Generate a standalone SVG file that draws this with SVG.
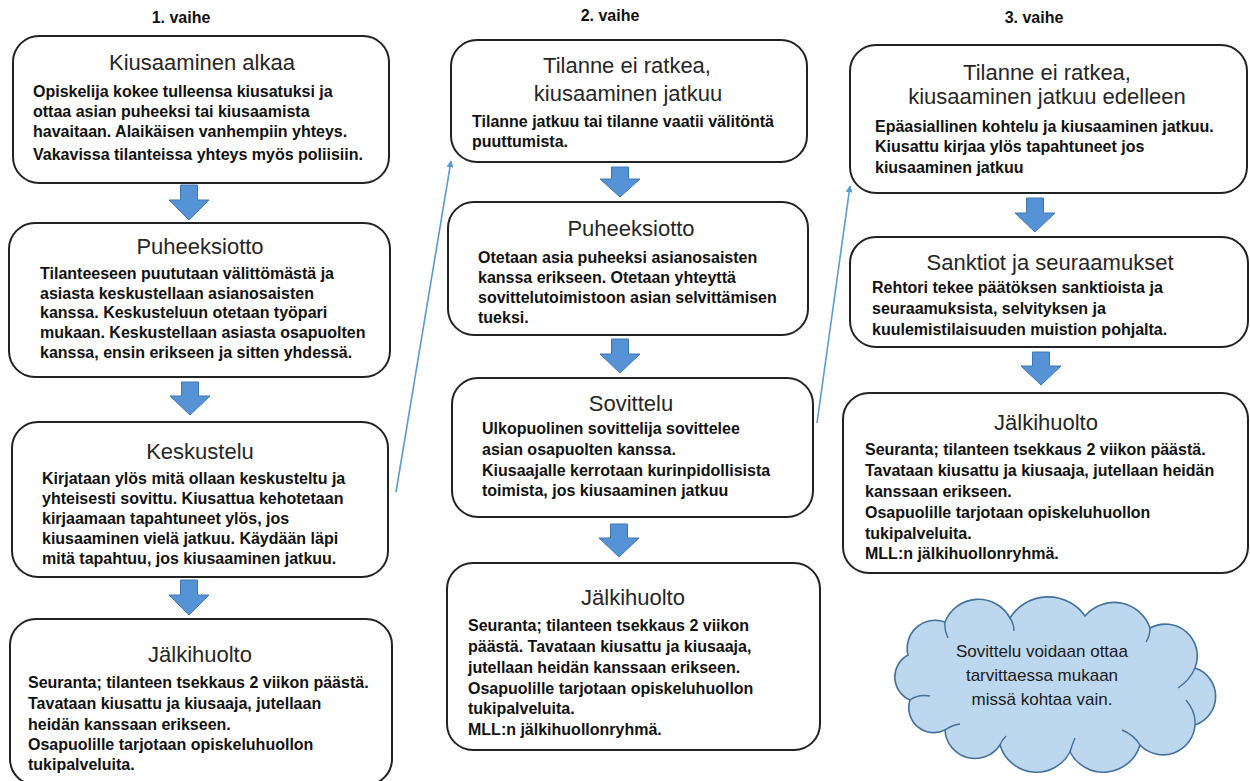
<svg xmlns="http://www.w3.org/2000/svg" width="1250" height="781" viewBox="0 0 1250 781">
<defs>
<style>
.box{fill:#fff;stroke:#222;stroke-width:2}
.ttl{font-family:"Liberation Sans",Arial,sans-serif;font-size:22px;fill:#262626;text-anchor:middle}
.bd{font-family:"Liberation Sans",Arial,sans-serif;font-size:16px;font-weight:bold;fill:#111}
.ph{font-family:"Liberation Sans",Arial,sans-serif;font-size:16px;font-weight:bold;fill:#111;text-anchor:middle}
.blk{fill:#5592D6;stroke:#3F77B5;stroke-width:1}
.con{fill:none;stroke:#5B9BD5;stroke-width:1.6}
.cl{fill:#BDD7EE;stroke:#41719C;stroke-width:1.6}
.cli{fill:none;stroke:#41719C;stroke-width:1.4}
.clt{font-family:"Liberation Sans",Arial,sans-serif;font-size:17px;fill:#1a1a1a;text-anchor:middle}
</style>
<marker id="ah" viewBox="0 0 10 10" refX="9" refY="5" markerWidth="7" markerHeight="7" orient="auto-start-reverse" markerUnits="userSpaceOnUse">
<path d="M0,0 L10,5 L0,10 z" fill="#5B9BD5"/>
</marker>
</defs>
<rect width="1250" height="781" fill="#fff"/>

<text class="ph" x="181" y="23">1. vaihe</text>
<text class="ph" x="610" y="21">2. vaihe</text>
<text class="ph" x="1034" y="23">3. vaihe</text>

<g id="flow-arrows">
<path class="blk" d="M180.5,185 h17 v15 h11.5 l-20,20 l-20,-20 h11.5 z"/>
<path class="blk" d="M181.5,382 h17 v14 h11.5 l-20,19 l-20,-19 h11.5 z"/>
<path class="blk" d="M180.5,580 h17 v15 h11.5 l-20,20 l-20,-20 h11.5 z"/>
<path class="blk" d="M611.5,167 h17 v12 h11.5 l-20,18 l-20,-18 h11.5 z"/>
<path class="blk" d="M611.5,339 h17 v15 h11.5 l-20,19 l-20,-19 h11.5 z"/>
<path class="blk" d="M610.5,524 h17 v14 h11.5 l-20,19 l-20,-19 h11.5 z"/>
<path class="blk" d="M1026.5,198 h17 v15 h11.5 l-20,19 l-20,-19 h11.5 z"/>
<path class="blk" d="M1032.5,352 h17 v14 h11.5 l-20,19 l-20,-19 h11.5 z"/>
</g>

<g id="connectors">
<line class="con" x1="396" y1="492" x2="451" y2="161" marker-end="url(#ah)"/>
<line class="con" x1="817" y1="423" x2="850" y2="186" marker-end="url(#ah)"/>
</g>

<g id="n1-kiusaaminen-alkaa">
<rect class="box" x="13" y="36" width="376" height="147" rx="26"/>
<text class="ttl" x="202" y="70">Kiusaaminen alkaa</text>
<text class="bd" x="33" y="97">Opiskelija kokee tulleensa kiusatuksi ja</text>
<text class="bd" x="33" y="117">ottaa asian puheeksi tai kiusaamista</text>
<text class="bd" x="33" y="137">havaitaan. Alaikäisen vanhempiin yhteys.</text>
<text class="bd" x="33" y="160">Vakavissa tilanteissa yhteys myös poliisiin.</text>
</g>

<g id="n2-puheeksiotto-1">
<rect class="box" x="9" y="223" width="381" height="154" rx="26"/>
<text class="ttl" x="200" y="254">Puheeksiotto</text>
<text class="bd" x="40" y="279">Tilanteeseen puututaan välittömästä ja</text>
<text class="bd" x="40" y="299">asiasta keskustellaan asianosaisten</text>
<text class="bd" x="40" y="318">kanssa. Keskusteluun otetaan työpari</text>
<text class="bd" x="40" y="338">mukaan. Keskustellaan asiasta osapuolten</text>
<text class="bd" x="40" y="358">kanssa, ensin erikseen ja sitten yhdessä.</text>
</g>

<g id="n3-keskustelu">
<rect class="box" x="12" y="422" width="376" height="155" rx="26"/>
<text class="ttl" x="200" y="459">Keskustelu</text>
<text class="bd" x="42" y="484">Kirjataan ylös mitä ollaan keskusteltu ja</text>
<text class="bd" x="42" y="504">yhteisesti sovittu. Kiusattua kehotetaan</text>
<text class="bd" x="42" y="524">kirjaamaan tapahtuneet ylös, jos</text>
<text class="bd" x="42" y="544">kiusaaminen vielä jatkuu. Käydään läpi</text>
<text class="bd" x="42" y="564">mitä tapahtuu, jos kiusaaminen jatkuu.</text>
</g>

<g id="n4-jalkihuolto-1">
<rect class="box" x="10" y="619" width="382" height="166" rx="26"/>
<text class="ttl" x="200" y="662">Jälkihuolto</text>
<text class="bd" x="28" y="688">Seuranta; tilanteen tsekkaus 2 viikon päästä.</text>
<text class="bd" x="28" y="709">Tavataan kiusattu ja kiusaaja, jutellaan</text>
<text class="bd" x="28" y="730">heidän kanssaan erikseen.</text>
<text class="bd" x="28" y="750">Osapuolille tarjotaan opiskeluhuollon</text>
<text class="bd" x="28" y="770">tukipalveluita.</text>
</g>

<g id="n5-tilanne-ei-ratkea">
<rect class="box" x="451" y="40" width="356" height="122" rx="26"/>
<text class="ttl" x="627" y="73">Tilanne ei ratkea,</text>
<text class="ttl" x="628" y="101">kiusaaminen jatkuu</text>
<text class="bd" x="472" y="127">Tilanne jatkuu tai tilanne vaatii välitöntä</text>
<text class="bd" x="472" y="147">puuttumista.</text>
</g>

<g id="n6-puheeksiotto-2">
<rect class="box" x="448" y="202" width="360" height="133" rx="26"/>
<text class="ttl" x="631" y="236">Puheeksiotto</text>
<text class="bd" x="478" y="263">Otetaan asia puheeksi asianosaisten</text>
<text class="bd" x="478" y="283">kanssa erikseen. Otetaan yhteyttä</text>
<text class="bd" x="478" y="303">sovittelutoimistoon asian selvittämisen</text>
<text class="bd" x="478" y="323">tueksi.</text>
</g>

<g id="n7-sovittelu">
<rect class="box" x="452" y="378" width="361" height="139" rx="26"/>
<text class="ttl" x="631" y="411">Sovittelu</text>
<text class="bd" x="482" y="434">Ulkopuolinen sovittelija sovittelee</text>
<text class="bd" x="482" y="455">asian osapuolten kanssa.</text>
<text class="bd" x="482" y="476">Kiusaajalle kerrotaan kurinpidollisista</text>
<text class="bd" x="482" y="496">toimista, jos kiusaaminen jatkuu</text>
</g>

<g id="n8-jalkihuolto-2">
<rect class="box" x="447" y="563" width="373" height="187" rx="26"/>
<text class="ttl" x="633" y="605">Jälkihuolto</text>
<text class="bd" x="468" y="631">Seuranta; tilanteen tsekkaus 2 viikon</text>
<text class="bd" x="468" y="652">päästä. Tavataan kiusattu ja kiusaaja,</text>
<text class="bd" x="468" y="673">jutellaan heidän kanssaan erikseen.</text>
<text class="bd" x="468" y="694">Osapuolille tarjotaan opiskeluhuollon</text>
<text class="bd" x="468" y="714">tukipalveluita.</text>
<text class="bd" x="468" y="735">MLL:n jälkihuollonryhmä.</text>
</g>

<g id="n9-jatkuu-edelleen">
<rect class="box" x="850" y="45" width="397" height="148" rx="26"/>
<text class="ttl" x="1047" y="80">Tilanne ei ratkea,</text>
<text class="ttl" x="1047" y="104">kiusaaminen jatkuu edelleen</text>
<text class="bd" x="875" y="132">Epäasiallinen kohtelu ja kiusaaminen jatkuu.</text>
<text class="bd" x="875" y="152">Kiusattu kirjaa ylös tapahtuneet jos</text>
<text class="bd" x="875" y="173">kiusaaminen jatkuu</text>
</g>

<g id="n10-sanktiot">
<rect class="box" x="850" y="237" width="398" height="110" rx="26"/>
<text class="ttl" x="1050" y="270">Sanktiot ja seuraamukset</text>
<text class="bd" x="872" y="293">Rehtori tekee päätöksen sanktioista ja</text>
<text class="bd" x="872" y="314">seuraamuksista, selvityksen ja</text>
<text class="bd" x="872" y="335">kuulemistilaisuuden muistion pohjalta.</text>
</g>

<g id="n11-jalkihuolto-3">
<rect class="box" x="843" y="393" width="405" height="180" rx="26"/>
<text class="ttl" x="1046" y="430">Jälkihuolto</text>
<text class="bd" x="865" y="455">Seuranta; tilanteen tsekkaus 2 viikon päästä.</text>
<text class="bd" x="865" y="476">Tavataan kiusattu ja kiusaaja, jutellaan heidän</text>
<text class="bd" x="865" y="497">kanssaan erikseen.</text>
<text class="bd" x="865" y="518">Osapuolille tarjotaan opiskeluhuollon</text>
<text class="bd" x="865" y="539">tukipalveluita.</text>
<text class="bd" x="865" y="559">MLL:n jälkihuollonryhmä.</text>
</g>

<g id="n12-cloud">
<path class="cl" d="M910,700 A25,25 0 0 1 908,655 A28,28 0 0 1 945,622 A36,36 0 0 1 1010,618 A45,45 0 0 1 1085,616 A38,38 0 0 1 1150,628 A32,32 0 0 1 1195,668 A30,30 0 0 1 1195,725 A32,32 0 0 1 1140,745 A38,38 0 0 1 1070,752 A38,38 0 0 1 1000,745 A30,30 0 0 1 945,730 A25,25 0 0 1 910,700 Z"/>
<path class="cli" d="M910,700 Q918,694 930,696 M945,622 Q944,630 948,638 M1010,618 Q1014,624 1014,631 M1150,628 Q1150,636 1146,642 M1195,668 Q1190,680 1178,688 M1195,725 Q1196,712 1186,700 M1140,745 Q1134,735 1122,730 M1070,752 Q1072,745 1075,738 M1000,745 Q1002,740 1006,736 M945,730 Q952,725 960,724"/>
<text class="clt" x="1042" y="657">Sovittelu voidaan ottaa</text>
<text class="clt" x="1042" y="681">tarvittaessa mukaan</text>
<text class="clt" x="1042" y="705">missä kohtaa vain.</text>
</g>
</svg>
